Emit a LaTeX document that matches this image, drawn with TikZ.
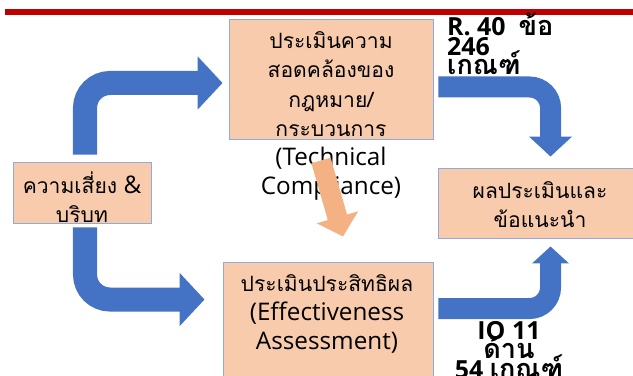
\documentclass[tikz,border=0pt]{standalone}
\usepackage{fontspec}
\setmainfont{Open Sans}[Scale=1.15]
\newfontfamily\thai[Script=Thai]{Loma}
\newfontfamily\thainote[Script=Thai,Scale=1.25]{Loma}
\usetikzlibrary{positioning,calc,arrows.meta}
\definecolor{boxfill}{HTML}{F8CBAD}
\definecolor{boxline}{HTML}{8FAADC}
\definecolor{flowblue}{HTML}{4472C4}
\definecolor{floworange}{HTML}{F4B183}
\definecolor{topbar}{HTML}{C00000}
\setlength{\lineskiplimit}{-30pt}

\begin{document}
\begin{tikzpicture}
			[x=0.03cm, y=-0.03cm,
			block/.style ={rectangle, draw=boxline, fill=boxfill, line width=0.8pt, inner sep=0pt},
			boxtext/.style ={align=center, inner sep=0pt, font=\fontsize{18}{24.8}\selectfont},
			note/.style ={inner sep=0pt, font=\fontsize{18.5}{16.5}\selectfont\bfseries},
			bigflow/.style ={draw=flowblue, line width=0.72cm, rounded corners=0.75cm, -{Triangle[length=0.75cm,width=1.56cm]}},
			smallflow/.style ={draw=flowblue, line width=0.63cm, rounded corners=0.63cm},
			crossflow/.style ={draw=floworange, line width=0.6cm, -{Triangle[length=0.6cm,width=1.26cm]}}]
			\clip (0,0) rectangle (633,376);
			\fill[topbar] (5,9) rectangle (640,15);
			\node[block, minimum width=6.12cm, minimum height=3.6cm] (tc) at (331,79) {};
			\node[block, minimum width=4.14cm, minimum height=1.83cm] (risk) at (82,192.5) {};
			\node[block, minimum width=6.3cm, minimum height=3.69cm] (eff) at (328,323.5) {};
			\node[block, minimum width=6.21cm, minimum height=2.1cm] (res) at (541.5,203) {};
			\node[boxtext] (tctext) at (331,116) {{\thai ประเมินความ}\\{\thai สอดคล้องของ}\\{\thai กฎหมาย/}\\{\thai กระบวนการ}\\(Technical\\Compliance)};
			\node[boxtext] (risktext) at (82,197) {{\thai ความเสี่ยง} \&\\{\thai บริบท}};
			\node[boxtext] (efftext) at (327,314) {{\thai ประเมินประสิทธิผล}\\(Effectiveness\\Assessment)};
			\node[boxtext] (restext) at (540,205) {{\thai ผลประเมินและ}\\{\thai ข้อแนะนำ}};
			\node[note, align=left, anchor=west] (tcnote) at (447,44) {R. 40\ \ {\thainote ข้อ}\\246\\{\thainote เกณฑ์}};
			\node[note, align=center] (effnote) at (509,350) {IO 11\\{\thainote ด้าน}\\54 {\thainote เกณฑ์}};
			\draw[bigflow] ($(risk.north)+(3,-7)$) |- ($(tc.west)+(-6,4)$);
			\draw[bigflow] ($(risk.south)+(3,4)$) |- ($(eff.north west)+(-18,38)$);
			\draw[smallflow, -{Triangle[length=0.6cm,width=1.26cm]}] ($(tc.east)+(5,8)$) -| ($(res.north west)+(113,-11)$);
			\draw[smallflow, -{Triangle[length=0.51cm,width=1.08cm]}] ($(eff.north east)+(5,47)$) -| ($(res.south west)+(113,8)$);
			\draw[crossflow] ($(tc.south)+(-10,21)$) -- ($(eff.north)+(15,-25)$);
		\end{tikzpicture}
\end{document}
